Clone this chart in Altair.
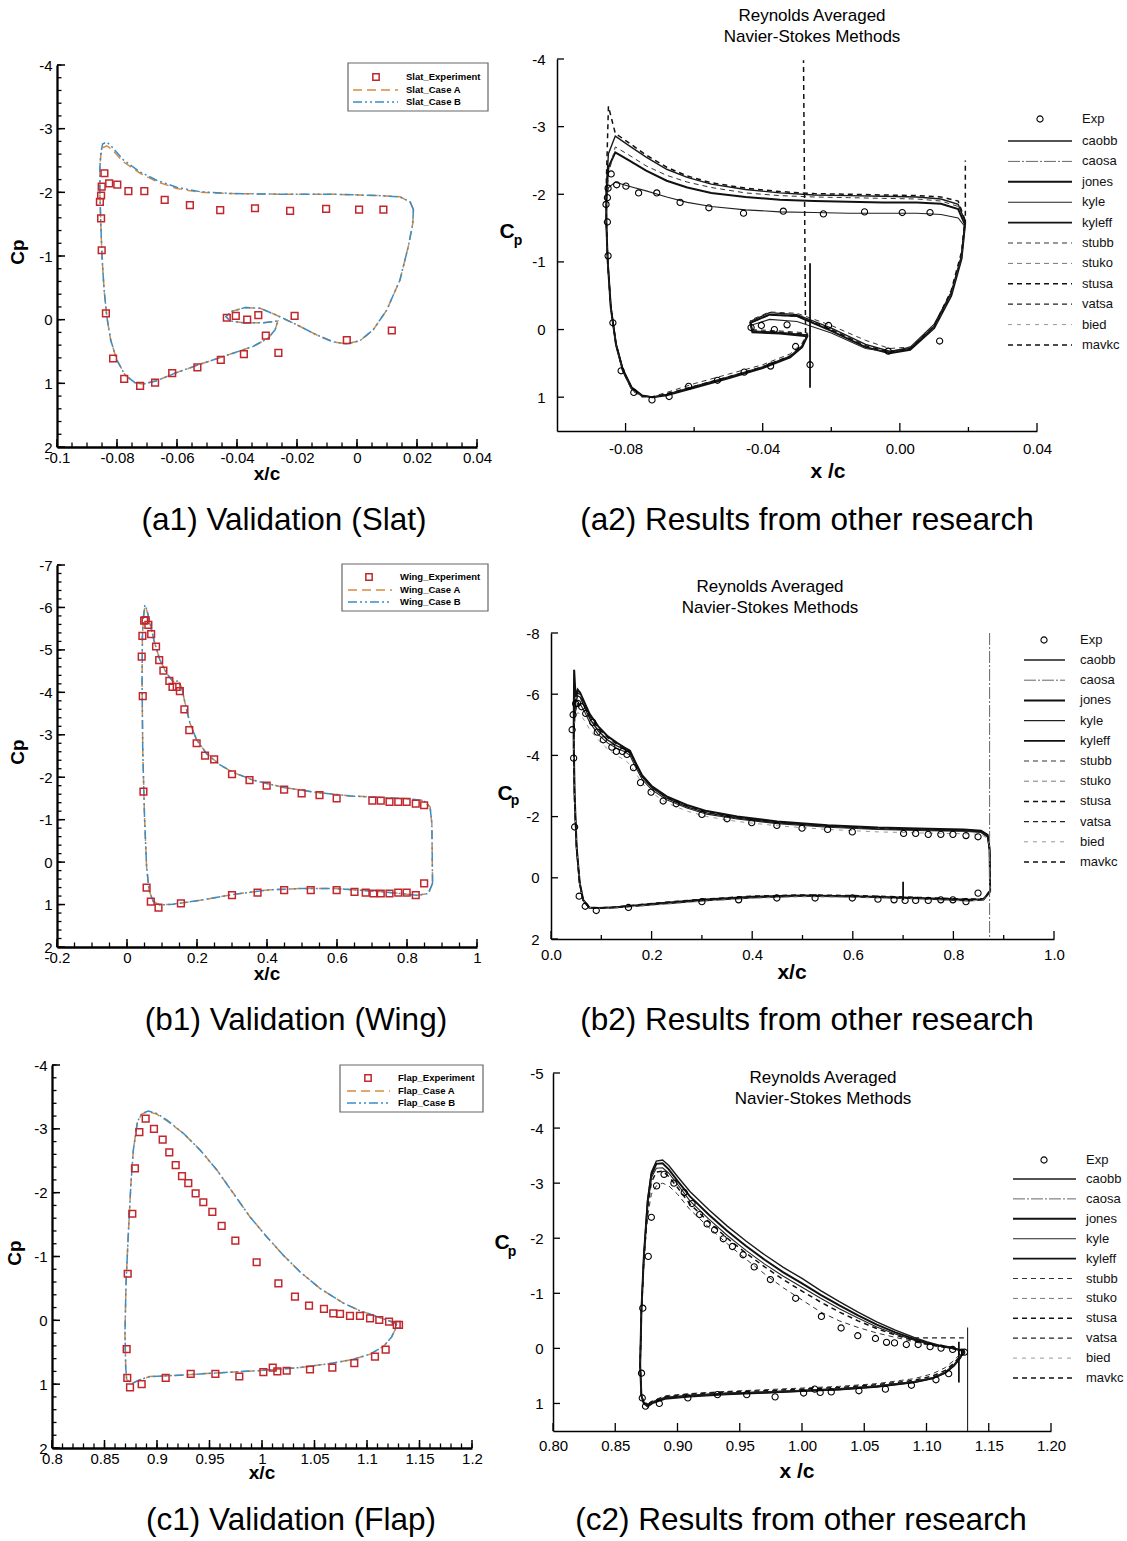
import altair as alt
import numpy as np
import pandas as pd

FONT = "Liberation Sans"
RED = "#C1272D"
ORANGE = "#D98A3C"
BLUE = "#3A8DCA"

# ----------------------------------------------------------------- (a) slat
SLAT_EXP_X = [-0.0842, -0.0851, -0.0826, -0.0799, -0.0853, -0.0857, -0.0853, -0.0762, -0.0709, -0.0641,
              -0.0557, -0.0456, -0.0340, -0.0223, -0.0103, 0.0007, 0.0088, 0.0116, -0.0851, -0.0837,
              -0.0813, -0.0776, -0.0723, -0.0673, -0.0616, -0.0532, -0.0454, -0.0377, -0.0304, -0.0262,
              -0.0434, -0.0404, -0.0366, -0.0329, -0.0208, -0.0034]
SLAT_EXP_CP = [-2.30, -2.09, -2.14, -2.12, -1.95, -1.85, -1.59, -2.02, -2.02, -1.88,
               -1.80, -1.72, -1.75, -1.71, -1.74, -1.73, -1.73, 0.17, -1.09, -0.10,
               0.61, 0.93, 1.04, 0.99, 0.84, 0.75, 0.63, 0.54, 0.25, 0.52,
               -0.03, -0.06, 0.00, -0.07, -0.06, 0.32]
SLAT_X = [0.0188, 0.0177, 0.0143, 0.0066, -0.0079, -0.0246, -0.0412, -0.0523, -0.0601, -0.0668,
          -0.0723, -0.0779, -0.0818, -0.0834, -0.0848, -0.0854, -0.0857, -0.0857, -0.0854, -0.0850,
          -0.0843, -0.0834, -0.0821, -0.0801, -0.0773, -0.0740, -0.0712, -0.0668, -0.0601, -0.0523,
          -0.0434, -0.0346, -0.0296, -0.0273, -0.0264, -0.0312, -0.0379, -0.0423, -0.0437, -0.0418,
          -0.0373, -0.0323, -0.0268, -0.0201, -0.0134, -0.0079, -0.0034, 0.0010, 0.0054, 0.0099,
          0.0143, 0.0171, 0.0186, 0.0188]
SLAT_CASE_B = [-1.73, -1.85, -1.93, -1.95, -1.97, -1.97, -1.98, -2.01, -2.08, -2.19,
               -2.32, -2.51, -2.72, -2.79, -2.76, -2.61, -2.40, -1.98, -1.51, -0.99,
               -0.47, -0.05, 0.32, 0.63, 0.87, 0.99, 1.01, 0.96, 0.83, 0.70,
               0.56, 0.42, 0.29, 0.16, 0.02, 0.05, 0.05, 0.02, -0.05, -0.13,
               -0.19, -0.18, -0.07, 0.08, 0.24, 0.35, 0.38, 0.33, 0.16, -0.15,
               -0.62, -1.15, -1.51, -1.73]
SLAT_CASE_A = [-1.73, -1.85, -1.93, -1.95, -1.97, -1.97, -1.98, -2.00, -2.06, -2.17,
               -2.30, -2.48, -2.68, -2.73, -2.70, -2.58, -2.40, -1.98, -1.51, -0.99,
               -0.47, -0.05, 0.32, 0.63, 0.87, 0.99, 1.01, 0.96, 0.83, 0.70,
               0.56, 0.42, 0.29, 0.16, 0.02, 0.05, 0.05, 0.02, -0.05, -0.13,
               -0.19, -0.18, -0.07, 0.08, 0.24, 0.35, 0.38, 0.33, 0.16, -0.15,
               -0.62, -1.15, -1.51, -1.73]

# ----------------------------------------------------------------- (b) wing
WING_EXP_X = [0.049, 0.053, 0.061, 0.069, 0.044, 0.042, 0.083, 0.092, 0.104, 0.121,
              0.130, 0.142, 0.151, 0.045, 0.164, 0.178, 0.199, 0.223, 0.249, 0.300,
              0.350, 0.399, 0.449, 0.499, 0.550, 0.599, 0.701, 0.725, 0.750, 0.775,
              0.799, 0.825, 0.849, 0.047, 0.056, 0.068, 0.090, 0.154, 0.300, 0.373,
              0.449, 0.525, 0.599, 0.650, 0.682, 0.704, 0.725, 0.750, 0.775, 0.799,
              0.825, 0.849]
WING_EXP_CP = [-5.69, -5.70, -5.59, -5.37, -5.33, -4.84, -5.08, -4.76, -4.51, -4.27,
               -4.13, -4.13, -4.03, -3.91, -3.60, -3.11, -2.80, -2.51, -2.42, -2.07,
               -1.93, -1.80, -1.71, -1.62, -1.58, -1.50, -1.45, -1.45, -1.42, -1.42,
               -1.42, -1.38, -1.34, -1.66, 0.60, 0.93, 1.07, 0.97, 0.78, 0.72,
               0.66, 0.66, 0.66, 0.70, 0.72, 0.74, 0.74, 0.74, 0.72, 0.72,
               0.78, 0.50]
WING_X = [0.873, 0.861, 0.828, 0.732, 0.590, 0.494, 0.399, 0.304, 0.209, 0.132,
          0.094, 0.075, 0.063, 0.056, 0.050, 0.045, 0.043, 0.044, 0.047, 0.051,
          0.057, 0.066, 0.077, 0.094, 0.113, 0.132, 0.147, 0.156, 0.166, 0.180,
          0.199, 0.228, 0.266, 0.304, 0.361, 0.447, 0.542, 0.637, 0.732, 0.808,
          0.847, 0.866, 0.871, 0.873]
WING_CASE_B = [0.50, 0.74, 0.78, 0.70, 0.62, 0.62, 0.66, 0.76, 0.90, 0.99,
               1.01, 0.93, 0.66, 0.11, -1.07, -2.64, -4.21, -5.31, -5.78, -6.06,
               -5.94, -5.63, -5.23, -4.76, -4.45, -4.25, -4.27, -4.13, -3.74, -3.27,
               -2.88, -2.55, -2.29, -2.11, -1.93, -1.76, -1.64, -1.56, -1.52, -1.49,
               -1.45, -1.30, -0.91, 0.50]
WING_CASE_A = [0.50, 0.74, 0.78, 0.70, 0.62, 0.62, 0.66, 0.76, 0.90, 0.99,
               1.01, 0.93, 0.66, 0.11, -1.07, -2.64, -4.21, -5.31, -5.76, -6.02,
               -5.92, -5.62, -5.22, -4.76, -4.45, -4.25, -4.26, -4.12, -3.74, -3.27,
               -2.88, -2.55, -2.29, -2.11, -1.93, -1.76, -1.64, -1.56, -1.52, -1.49,
               -1.45, -1.30, -0.91, 0.50]

# ----------------------------------------------------------------- (c) flap
FLAP_EXP_X = [0.8711, 0.8721, 0.8765, 0.8790, 0.8832, 0.8892, 0.8971, 0.9054, 0.9117, 0.9178,
              0.9238, 0.9298, 0.9368, 0.9441, 0.9527, 0.9616, 0.9746, 0.9949, 1.0156, 1.0314,
              1.0448, 1.0590, 1.0679, 1.0743, 1.0838, 1.0933, 1.1029, 1.1117, 1.1210, 1.1283,
              1.1305, 0.8717, 0.8743, 0.8854, 0.9083, 0.9321, 0.9556, 0.9784, 1.0013, 1.0102,
              1.0146, 1.0235, 1.0457, 1.0670, 1.0879, 1.1076, 1.1178]
FLAP_EXP_CP = [0.45, -0.73, -1.67, -2.38, -2.95, -3.16, -3.00, -2.83, -2.63, -2.43,
               -2.26, -2.15, -1.99, -1.85, -1.70, -1.48, -1.25, -0.91, -0.58, -0.37,
               -0.23, -0.18, -0.11, -0.10, -0.07, -0.07, -0.03, -0.005, 0.02, 0.07,
               0.07, 0.90, 1.05, 1.00, 0.90, 0.84, 0.84, 0.88, 0.81, 0.74,
               0.80, 0.79, 0.77, 0.74, 0.67, 0.57, 0.46]
FLAP_X = [1.1283, 1.1092, 1.0933, 1.0775, 1.0552, 1.0362, 1.0203, 1.0044, 0.9886, 0.9727,
          0.9568, 0.9410, 0.9251, 0.9092, 0.8997, 0.8917, 0.8854, 0.8813, 0.8775, 0.8752,
          0.8727, 0.8705, 0.8695, 0.8702, 0.8711, 0.8759, 0.8838, 0.8933, 0.9092, 0.9410,
          0.9727, 1.0044, 1.0362, 1.0679, 1.0870, 1.1029, 1.1156, 1.1235, 1.1267, 1.1283]
FLAP_CASE_B = [0.05, -0.06, -0.15, -0.27, -0.50, -0.76, -1.02, -1.31, -1.62, -1.99,
               -2.36, -2.67, -2.93, -3.14, -3.24, -3.28, -3.24, -3.11, -2.67, -2.15,
               -1.36, -0.58, 0.20, 0.73, 0.93, 0.99, 0.93, 0.88, 0.87, 0.84,
               0.81, 0.78, 0.74, 0.67, 0.61, 0.53, 0.41, 0.26, 0.15, 0.05]
FLAP_CASE_A = [0.05, -0.06, -0.15, -0.27, -0.50, -0.76, -1.02, -1.31, -1.62, -1.99,
               -2.36, -2.67, -2.93, -3.13, -3.23, -3.27, -3.23, -3.10, -2.67, -2.15,
               -1.36, -0.58, 0.20, 0.73, 0.93, 0.99, 0.93, 0.88, 0.87, 0.84,
               0.81, 0.78, 0.74, 0.67, 0.61, 0.53, 0.41, 0.26, 0.15, 0.05]

# ------------------------------------------------- other research (RANS methods)
METHODS = ["caobb", "caosa", "jones", "kyle", "kyleff", "stubb", "stuko", "stusa", "vatsa", "bied", "mavkc"]

A2_X = [0.0190, 0.0170, 0.0120, 0.0050, -0.0050, -0.0150, -0.0250, -0.0350, -0.0450, -0.0550,
        -0.0620, -0.0680, -0.0740, -0.0790, -0.0830, -0.0850, -0.0856, -0.0856, -0.0852, -0.0843,
        -0.0828, -0.0808, -0.0782, -0.0752, -0.0722, -0.0680, -0.0600, -0.0500, -0.0400, -0.0320,
        -0.0285, -0.0270, -0.0350, -0.0430, -0.0436, -0.0380, -0.0300, -0.0200, -0.0100, -0.0030,
        0.0030, 0.0100, 0.0150, 0.0180, 0.0190]
A2_CAOBB = [-1.60, -1.85, -1.93, -1.96, -1.97, -1.98, -1.99, -2.02, -2.07, -2.15,
            -2.25, -2.37, -2.55, -2.72, -2.86, -2.60, -2.10, -1.60, -1.00, -0.35,
            0.20, 0.58, 0.85, 0.97, 1.00, 0.96, 0.85, 0.71, 0.56, 0.40,
            0.25, 0.08, 0.05, 0.03, -0.12, -0.25, -0.22, -0.02, 0.22, 0.32,
            0.28, -0.05, -0.55, -1.10, -1.60]
A2_JONES = [-1.55, -1.78, -1.86, -1.88, -1.88, -1.89, -1.90, -1.92, -1.96, -2.02,
            -2.10, -2.20, -2.35, -2.50, -2.62, -2.40, -2.00, -1.55, -1.00, -0.32,
            0.22, 0.60, 0.87, 0.98, 1.00, 0.97, 0.86, 0.72, 0.57, 0.41,
            0.26, 0.10, 0.06, 0.04, -0.10, -0.22, -0.20, 0.02, 0.26, 0.35,
            0.30, -0.02, -0.50, -1.05, -1.55]
A2_KYLE = [-1.52, -1.65, -1.70, -1.72, -1.72, -1.72, -1.73, -1.74, -1.77, -1.82,
           -1.88, -1.96, -2.05, -2.12, -2.18, -2.10, -1.90, -1.50, -1.00, -0.30,
           0.24, 0.62, 0.88, 0.98, 1.00, 0.96, 0.84, 0.70, 0.55, 0.39,
           0.24, 0.08, 0.04, 0.02, -0.06, -0.15, -0.12, 0.05, 0.28, 0.33,
           0.26, -0.08, -0.55, -1.05, -1.52]
A2_STUBB = [-1.58, -1.82, -1.90, -1.93, -1.94, -1.95, -1.96, -1.98, -2.02, -2.10,
            -2.18, -2.28, -2.42, -2.58, -2.70, -2.30, -1.85, -1.45, -0.95, -0.30,
            0.22, 0.62, 0.90, 1.00, 0.99, 0.93, 0.80, 0.66, 0.52, 0.36,
            0.20, 0.05, 0.02, 0.00, -0.14, -0.26, -0.24, -0.06, 0.16, 0.28,
            0.26, -0.02, -0.52, -1.10, -1.58]
A2_MAVKC = [-1.62, -1.90, -1.96, -1.98, -1.99, -2.00, -2.01, -2.04, -2.09, -2.17,
            -2.27, -2.40, -2.58, -2.76, -2.90, -3.30, -2.20, -1.62, -1.00, -0.33,
            0.21, 0.60, 0.86, 0.98, 1.00, 0.95, 0.84, 0.70, 0.55, 0.39,
            0.24, 0.07, 0.04, 0.02, -0.10, -0.22, -0.20, 0.00, 0.24, 0.33,
            0.28, -0.05, -0.58, -1.15, -1.62]
A2_EXTRA = [("mavkc", [-0.0275, -0.0281], [0.05, -3.98]),
            ("kyleff", [-0.0262, -0.0262], [-0.98, 0.86]),
            ("stusa", [0.0191, 0.0191], [-1.55, -2.50])]

B2_X = [0.873, 0.860, 0.830, 0.730, 0.600, 0.500, 0.400, 0.300, 0.200, 0.130,
        0.095, 0.076, 0.064, 0.057, 0.051, 0.047, 0.045, 0.046, 0.049, 0.053,
        0.058, 0.066, 0.077, 0.094, 0.113, 0.132, 0.147, 0.157, 0.167, 0.181,
        0.200, 0.230, 0.270, 0.310, 0.370, 0.450, 0.550, 0.650, 0.750, 0.820,
        0.855, 0.868, 0.872, 0.873]
B2_CAOBB = [0.40, 0.72, 0.75, 0.68, 0.62, 0.60, 0.65, 0.75, 0.88, 0.97,
            1.00, 0.98, 0.75, 0.20, -0.90, -2.50, -4.20, -5.20, -5.70, -5.95,
            -5.90, -5.60, -5.20, -4.80, -4.50, -4.30, -4.20, -4.10, -3.75, -3.30,
            -2.95, -2.60, -2.32, -2.12, -1.95, -1.80, -1.68, -1.60, -1.56, -1.54,
            -1.50, -1.35, -0.90, 0.40]
B2_JONES = [0.45, 0.70, 0.72, 0.66, 0.60, 0.58, 0.62, 0.72, 0.86, 0.96,
            0.99, 0.97, 0.72, 0.15, -1.00, -2.70, -4.60, -6.80, -5.90, -6.15,
            -6.05, -5.75, -5.35, -4.95, -4.62, -4.40, -4.25, -4.15, -3.80, -3.35,
            -3.00, -2.66, -2.38, -2.18, -2.00, -1.84, -1.72, -1.64, -1.60, -1.58,
            -1.54, -1.40, -0.95, 0.45]
B2_KYLE = [0.40, 0.70, 0.74, 0.67, 0.61, 0.60, 0.64, 0.74, 0.87, 0.96,
           0.99, 0.97, 0.74, 0.18, -0.95, -2.55, -4.10, -5.00, -5.45, -5.70,
           -5.68, -5.45, -5.08, -4.68, -4.40, -4.22, -4.12, -4.00, -3.65, -3.22,
           -2.88, -2.55, -2.28, -2.08, -1.92, -1.77, -1.65, -1.58, -1.54, -1.52,
           -1.48, -1.32, -0.88, 0.40]
B2_BIED = [0.40, 0.72, 0.76, 0.70, 0.64, 0.62, 0.67, 0.77, 0.90, 0.98,
           1.00, 0.97, 0.74, 0.18, -0.95, -2.50, -4.00, -4.90, -5.25, -5.40,
           -5.35, -5.15, -4.85, -4.50, -4.20, -3.98, -3.85, -3.70, -3.45, -3.10,
           -2.78, -2.45, -2.18, -2.00, -1.84, -1.70, -1.58, -1.50, -1.46, -1.44,
           -1.42, -1.28, -0.85, 0.40]
B2_STUSA = [0.42, 0.68, 0.70, 0.64, 0.58, 0.56, 0.60, 0.70, 0.84, 0.95,
            0.99, 0.97, 0.73, 0.17, -0.92, -2.55, -4.30, -5.40, -5.85, -6.05,
            -5.98, -5.70, -5.28, -4.88, -4.58, -4.36, -4.22, -4.12, -3.78, -3.32,
            -2.98, -2.62, -2.35, -2.15, -1.97, -1.82, -1.70, -1.62, -1.58, -1.56,
            -1.52, -1.38, -0.92, 0.42]
B2_EXTRA = [("caosa", [0.872, 0.872], [-8.0, 2.0]),
            ("kyleff", [0.700, 0.700], [0.13, 0.73])]

C2_X = [1.130, 1.120, 1.110, 1.100, 1.090, 1.075, 1.060, 1.045, 1.030, 1.015,
        1.000, 0.985, 0.970, 0.955, 0.940, 0.925, 0.910, 0.900, 0.893, 0.888,
        0.883, 0.879, 0.876, 0.873, 0.871, 0.870, 0.871, 0.873, 0.876, 0.880,
        0.890, 0.910, 0.940, 0.970, 1.000, 1.030, 1.060, 1.090, 1.105, 1.115,
        1.122, 1.127, 1.130]
C2_CAOBB = [0.05, -0.02, -0.06, -0.12, -0.20, -0.33, -0.48, -0.66, -0.85, -1.05,
            -1.27, -1.47, -1.70, -1.95, -2.22, -2.52, -2.85, -3.12, -3.32, -3.42,
            -3.40, -3.20, -2.70, -1.70, -0.70, 0.30, 0.85, 1.00, 1.06, 1.00,
            0.92, 0.88, 0.84, 0.81, 0.78, 0.75, 0.70, 0.62, 0.55, 0.45,
            0.32, 0.18, 0.05]
C2_JONES = [0.05, -0.01, -0.05, -0.10, -0.17, -0.29, -0.43, -0.60, -0.78, -0.97,
            -1.18, -1.38, -1.61, -1.86, -2.13, -2.43, -2.76, -3.04, -3.25, -3.36,
            -3.35, -3.15, -2.65, -1.68, -0.68, 0.30, 0.86, 1.00, 1.04, 0.98,
            0.90, 0.86, 0.82, 0.80, 0.77, 0.74, 0.69, 0.61, 0.54, 0.44,
            0.31, 0.17, 0.05]
C2_KYLE = [0.05, 0.00, -0.04, -0.09, -0.15, -0.26, -0.39, -0.55, -0.72, -0.91,
           -1.11, -1.31, -1.53, -1.78, -2.05, -2.35, -2.68, -2.98, -3.18, -3.28,
           -3.27, -3.10, -2.60, -1.65, -0.66, 0.30, 0.86, 1.00, 1.03, 0.97,
           0.89, 0.85, 0.81, 0.79, 0.76, 0.73, 0.68, 0.60, 0.53, 0.43,
           0.30, 0.16, 0.05]
C2_STUBB = [0.05, 0.00, -0.03, -0.07, -0.12, -0.20, -0.28, -0.38, -0.50, -0.66,
            -0.88, -1.10, -1.35, -1.62, -1.90, -2.20, -2.52, -2.80, -2.95, -3.00,
            -2.95, -2.80, -2.40, -1.60, -0.70, 0.30, 0.85, 0.98, 1.00, 0.95,
            0.86, 0.82, 0.78, 0.75, 0.72, 0.69, 0.64, 0.55, 0.46, 0.35,
            0.22, 0.10, 0.05]
C2_MAVKC = [0.05, -0.01, -0.04, -0.08, -0.14, -0.24, -0.36, -0.50, -0.66, -0.84,
            -1.04, -1.25, -1.48, -1.73, -2.00, -2.30, -2.62, -2.92, -3.12, -3.22,
            -3.20, -3.02, -2.55, -1.62, -0.65, 0.30, 0.85, 0.99, 1.02, 0.96,
            0.88, 0.83, 0.79, 0.77, 0.74, 0.71, 0.66, 0.58, 0.50, 0.40,
            0.27, 0.14, 0.05]
C2_EXTRA = [("vatsa", [1.090, 1.130], [-0.19, -0.19]),
            ("kyle", [1.133, 1.133], [-0.38, 1.50]),
            ("kyleff", [1.126, 1.126], [-0.12, 0.62])]

# tick label values
A1_XT = [-0.1, -0.08, -0.06, -0.04, -0.02, 0, 0.02, 0.04]
A1_YT = [-4, -3, -2, -1, 0, 1, 2]
B1_XT = [-0.2, 0, 0.2, 0.4, 0.6, 0.8, 1]
B1_YT = [-7, -6, -5, -4, -3, -2, -1, 0, 1, 2]
C1_XT = [0.8, 0.85, 0.9, 0.95, 1, 1.05, 1.1, 1.15, 1.2]
C1_YT = [-4, -3, -2, -1, 0, 1, 2]
A2_XT = [-0.08, -0.04, 0.0, 0.04]
A2_XM = [-0.06, -0.02, 0.02]
A2_YT = [-4, -3, -2, -1, 0, 1]
B2_XT = [0.0, 0.2, 0.4, 0.6, 0.8, 1.0]
B2_XM = [0.1, 0.3, 0.5, 0.7, 0.9]
B2_YT = [-8, -6, -4, -2, 0, 2]
C2_XT = [0.80, 0.85, 0.90, 0.95, 1.00, 1.05, 1.10, 1.15, 1.20]
C2_YT = [-5, -4, -3, -2, -1, 0, 1]

STYLE = {
    "caobb": ("#1a1a1a", 1.4, None),
    "caosa": ("#666666", 1.0, [12, 2, 2, 2]),
    "jones": ("#111111", 2.0, None),
    "kyle": ("#222222", 1.1, None),
    "kyleff": ("#111111", 1.8, None),
    "stubb": ("#333333", 1.0, [5, 4]),
    "stuko": ("#777777", 1.0, [5, 4]),
    "stusa": ("#111111", 1.5, [5, 4]),
    "vatsa": ("#222222", 1.3, [5, 4]),
    "bied": ("#999999", 1.0, [4, 5]),
    "mavkc": ("#111111", 1.5, [5, 4]),
}


# ----------------------------------------------------------------- helpers
def one():
    return pd.DataFrame({"k": [0]})


def text_layer(s, x, y, size, weight="normal", angle=0, align="center", baseline="middle", color="black"):
    return alt.Chart(one()).mark_text(text=s, font=FONT, fontSize=size, fontWeight=weight, angle=angle,
                                      align=align, baseline=baseline, color=color).encode(
        x=alt.value(x), y=alt.value(y))


def make_axis(vals, fmt, offset, size, pad, dw):
    return alt.Axis(values=vals, title=None, grid=False, ticks=False, tickSize=0, domainColor="black",
                    domainWidth=dw, labelFont=FONT, labelFontSize=size, labelColor="black",
                    labelPadding=pad, labelFlush=False, labelOverlap=False, offset=offset,
                    labelExpr=f"replace(format(datum.value, '{fmt}'), '\u2212', '-')")


def seq_df(xs, cps, seg):
    d = pd.DataFrame({"x": xs, "cp": cps})
    d["order"] = range(len(d))
    d["seg"] = seg
    return d


class Panel:
    def __init__(self, w, h, xdom, ydom, xr, yr, ax_x, ax_y):
        self.w, self.h = w, h
        self.xs = alt.Scale(domain=xdom, range=xr, nice=False, zero=False)
        self.ys = alt.Scale(domain=ydom, range=yr, nice=False, zero=False)
        self.ax_x, self.ax_y = ax_x, ax_y
        self.layers = []

    def X(self):
        return alt.X("x:Q", scale=self.xs, axis=self.ax_x)

    def Y(self):
        return alt.Y("cp:Q", scale=self.ys, axis=self.ax_y)

    def line(self, df, color, width, dash=None):
        kw = dict(color=color, strokeWidth=width)
        if dash:
            kw["strokeDash"] = dash
        self.layers.append(alt.Chart(df).mark_line(**kw).encode(
            x=self.X(), y=self.Y(), order="order:Q", detail="seg:N"))

    def points(self, xs, cps, shape, color, size, sw):
        self.layers.append(alt.Chart(pd.DataFrame({"x": xs, "cp": cps})).mark_point(
            shape=shape, filled=False, color=color, size=size, strokeWidth=sw, opacity=1).encode(
            x=self.X(), y=self.Y()))

    def yticks(self, vals, x0, length, sw):
        self.layers.append(alt.Chart(pd.DataFrame({"cp": vals})).mark_rule(color="black", strokeWidth=sw).encode(
            y=self.Y(), x=alt.value(x0), x2=alt.value(x0 + length)))

    def xticks(self, vals, y0, length, sw):
        self.layers.append(alt.Chart(pd.DataFrame({"x": vals})).mark_rule(color="black", strokeWidth=sw).encode(
            x=self.X(), y=alt.value(y0), y2=alt.value(y0 - length)))

    def add(self, layer):
        self.layers.append(layer)

    def chart(self):
        return alt.layer(*self.layers).properties(width=self.w, height=self.h)


def left_panel(w, h, xdom, ydom, xr, yr, xt, yt, xminor, yminor, yoff, exp_x, exp_cp, sx, ca, cb,
               names, box, rows, mx, lx0, lx1, tx, cp_pos, xc_pos, caption, cap_pos, anchor=False):
    ax_x = make_axis(xt, "~g", 0, 15, 3, 2.3)
    ax_y = make_axis(yt, "~g", yoff, 15, 5, 2.3)
    p = Panel(w, h, xdom, ydom, xr, yr, ax_x, ax_y)
    if anchor:
        p.add(alt.Chart(one()).mark_rect(opacity=0).encode(
            x=alt.value(-52), x2=alt.value(0), y=alt.value(-59), y2=alt.value(0)))
    ax0 = xr[0]
    bottom = yr[1]
    p.yticks(yminor, ax0, 4.5, 1.3)
    p.yticks(yt, ax0, 8, 1.5)
    p.xticks(xminor, bottom, 4.5, 1.3)
    p.xticks(xt, bottom, 8, 1.5)
    p.line(seq_df(sx, ca, "A"), ORANGE, 1.5, [9, 5])
    p.line(seq_df(sx, cb, "B"), BLUE, 1.5, [9, 3, 2, 3, 2, 3])
    p.points(exp_x, exp_cp, "square", RED, 45, 1.5)
    # legend
    p.add(alt.Chart(one()).mark_rect(fill="white", stroke="#666666", strokeWidth=1.2).encode(
        x=alt.value(box[0]), x2=alt.value(box[2]), y=alt.value(box[1]), y2=alt.value(box[3])))
    p.add(alt.Chart(one()).mark_point(shape="square", filled=False, color=RED, size=40, strokeWidth=1.5,
                                      opacity=1).encode(x=alt.value(mx), y=alt.value(rows[0])))
    p.add(alt.Chart(one()).mark_rule(color=ORANGE, strokeWidth=1.5, strokeDash=[9, 5]).encode(
        x=alt.value(lx0), x2=alt.value(lx1), y=alt.value(rows[1])))
    p.add(alt.Chart(one()).mark_rule(color=BLUE, strokeWidth=1.5, strokeDash=[9, 3, 2, 3, 2, 3]).encode(
        x=alt.value(lx0), x2=alt.value(lx1), y=alt.value(rows[2])))
    for n, yy in zip(names, rows):
        p.add(text_layer(n, tx, yy, 9.5, "bold", align="left"))
    p.add(text_layer("Cp", cp_pos[0], cp_pos[1], 19, "bold", angle=270))
    p.add(text_layer("x/c", xc_pos[0], xc_pos[1], 19, "bold"))
    p.add(text_layer(caption, cap_pos[0], cap_pos[1], 31.5))
    return p.chart()


def right_panel(w, h, xdom, ydom, xr, yr, xt, xm, yt, xfmt, xoff, yoff, ypad, xpad,
                exp_x, exp_cp, sx, variants, extras, leg, c_pos, p_pos, xc_text, xc_pos,
                title_pos, caption, cap_pos):
    ax_x = make_axis(xt, xfmt, xoff, 15, xpad, 1.5)
    ax_y = make_axis(yt, "~g", yoff, 15, ypad, 1.5)
    p = Panel(w, h, xdom, ydom, xr, yr, ax_x, ax_y)
    ax0 = xr[0]
    bottom = h + xoff
    p.yticks(yt, ax0, 7, 1.3)
    p.xticks(xt, bottom, 8, 1.3)
    if xm:
        p.xticks(xm, bottom, 4, 1.3)
    for name, cps in variants:
        c, wdt, dash = STYLE[name]
        p.line(seq_df(sx, cps, name), c, wdt, dash)
    for k, (name, ex, ec) in enumerate(extras):
        c, wdt, dash = STYLE[name]
        p.line(seq_df(ex, ec, f"{name}_{k}"), c, wdt, dash)
    p.points(exp_x, exp_cp, "circle", "black", 38, 1.1)
    # legend
    (ex0, ey0), tx, lx0, lx1, y0, dy = leg
    p.add(alt.Chart(one()).mark_point(shape="circle", filled=False, color="black", size=38, strokeWidth=1.1,
                                      opacity=1).encode(x=alt.value(ex0), y=alt.value(ey0)))
    p.add(text_layer("Exp", tx, ey0, 13, align="left", color="#111111"))
    for i, m in enumerate(METHODS):
        c, wdt, dash = STYLE[m]
        kw = dict(color=c, strokeWidth=wdt)
        if dash:
            kw["strokeDash"] = dash
        yy = y0 + i * dy
        p.add(alt.Chart(one()).mark_rule(**kw).encode(x=alt.value(lx0), x2=alt.value(lx1), y=alt.value(yy)))
        p.add(text_layer(m, tx, yy, 13, align="left", color="#111111"))
    p.add(text_layer("C", c_pos[0], c_pos[1], 21, "bold"))
    p.add(text_layer("p", p_pos[0], p_pos[1], 14, "bold"))
    p.add(text_layer(xc_text, xc_pos[0], xc_pos[1], 21, "bold"))
    p.add(text_layer("Reynolds Averaged", title_pos[0], title_pos[1], 17))
    p.add(text_layer("Navier-Stokes Methods", title_pos[0], title_pos[1] + 21, 17))
    p.add(text_layer(caption, cap_pos[0], cap_pos[1], 31.5))
    return p.chart()


def minor(a, b, step):
    return list(np.round(np.arange(a, b + step / 2, step), 4))


# ----------------------------------------------------------------- panels
a1 = left_panel(425, 388, [-0.1, 0.04], [-4, 2], [5, 425], [6, 388], A1_XT, A1_YT,
                minor(-0.1, 0.04, 0.005), minor(-4, 2, 0.2), -5,
                SLAT_EXP_X, SLAT_EXP_CP, SLAT_X, SLAT_CASE_A, SLAT_CASE_B,
                ["Slat_Experiment", "Slat_Case A", "Slat_Case B"], (296, 4, 436, 52), [18, 31, 43],
                324, 301, 346, 354, (-34, 193), (215, 415), "(a1) Validation (Slat)", (232, 462), anchor=True)

b1 = left_panel(425, 382, [-0.2, 1.0], [-7, 2], [5, 425], [0, 382], B1_XT, B1_YT,
                minor(-0.2, 1.0, 0.05), minor(-7, 2, 0.2), -5,
                WING_EXP_X, WING_EXP_CP, WING_X, WING_CASE_A, WING_CASE_B,
                ["Wing_Experiment", "Wing_Case A", "Wing_Case B"], (290, -1, 436, 46), [12, 25, 37],
                317, 296, 340, 348, (-34, 187), (215, 409), "(b1) Validation (Wing)", (244, 456))

c1 = left_panel(425, 383, [0.8, 1.2], [-4, 2], [0, 420], [0, 383], C1_XT, C1_YT,
                minor(0.8, 1.2, 0.01), minor(-4, 2, 0.2), 0,
                FLAP_EXP_X, FLAP_EXP_CP, FLAP_X, FLAP_CASE_A, FLAP_CASE_B,
                ["Flap_Experiment", "Flap_Case A", "Flap_Case B"], (288, 0, 431, 47), [13, 26, 38],
                316, 295, 338, 346, (-37, 188), (210, 408), "(c1) Validation (Flap)", (239, 456))

a2 = right_panel(503, 388, [-0.1, 0.04], [-4, 1.5], [6, 486], [0, 372], A2_XT, A2_XM, A2_YT, ".2f",
                 -16, -6, 12, 10, SLAT_EXP_X, SLAT_EXP_CP, A2_X,
                 [("caobb", A2_CAOBB), ("jones", A2_JONES), ("kyle", A2_KYLE), ("stubb", A2_STUBB),
                  ("mavkc", A2_MAVKC)], A2_EXTRA,
                 ((489, 60), 531, 457, 521, 82, 20.4), (-44, 173), (-33, 182), "x /c", (277, 413),
                 (261, -43), "(a2) Results from other research", (256, 462))

b2 = right_panel(503, 382, [0.0, 1.0], [-8, 2], [0, 503], [68, 374], B2_XT, B2_XM, B2_YT, ".1f",
                 -8, 0, 12, 8, WING_EXP_X, WING_EXP_CP, B2_X,
                 [("caobb", B2_CAOBB), ("jones", B2_JONES), ("kyle", B2_KYLE), ("bied", B2_BIED),
                  ("stusa", B2_STUSA)], B2_EXTRA,
                 ((493, 75), 529, 473, 514, 95, 20.2), (-46, 229), (-36, 236), "x/c", (241, 408),
                 (219, 22), "(b2) Results from other research", (256, 456))

c2 = right_panel(503, 383, [0.8, 1.2], [-5, 1.5], [2, 500], [8, 366], C2_XT, None, C2_YT, ".2f",
                 -17, -2, 10, 7, FLAP_EXP_X, FLAP_EXP_CP, C2_X,
                 [("caobb", C2_CAOBB), ("jones", C2_JONES), ("kyle", C2_KYLE), ("stubb", C2_STUBB),
                  ("mavkc", C2_MAVKC)], C2_EXTRA,
                 ((493, 95), 535, 462, 525, 114, 19.9), (-49, 178), (-39, 187), "x /c", (246, 407),
                 (272, 13), "(c2) Results from other research", (250, 456))

chart = alt.concat(a1, a2, b1, b2, c1, c2, columns=2, spacing={"row": 118, "column": 74},
                   bounds="flush").properties(padding=0, background="white").configure_view(
    stroke="transparent", strokeWidth=0)

chart.save("out.html", embed_options={"renderer": "svg", "actions": False})
